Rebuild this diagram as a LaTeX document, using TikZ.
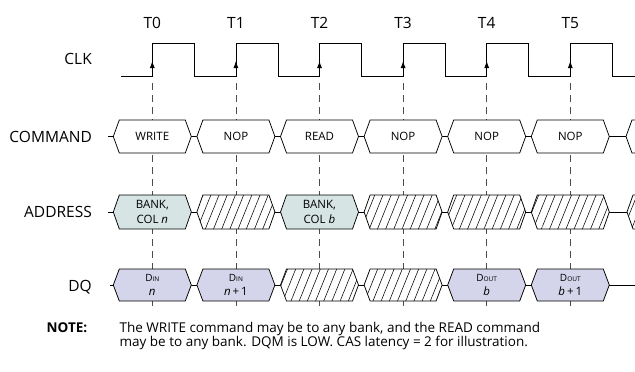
\documentclass[tikz,border=0pt]{standalone}
\usepackage{fontspec}
\setmainfont{Open Sans}
\usetikzlibrary{calc,arrows.meta,patterns.meta}
\definecolor{addrfill}{RGB}{214,228,228}
\definecolor{dqfill}{RGB}{212,212,234}

\begin{document}
\begin{tikzpicture}[x=1pt, y=-1pt,
    lbl/.style = {font=\fontsize{15.5}{17}\selectfont, inner sep=0pt},
    clkline/.style = {line width=.8pt},
    seg/.style = {draw, line width=.75pt, fill=white},
    addrseg/.style = {seg, fill=addrfill},
    dqseg/.style = {seg, fill=dqfill},
    hatchseg/.style = {seg, postaction={pattern={Lines[angle=68, distance=7.6pt, line width=.55pt]}}},
    segtext/.style = {font=\fontsize{11.5}{14.8}\selectfont, align=center, inner sep=0pt},
    notetext/.style = {anchor=base west, font=\fontsize{13.5}{15}\selectfont, inner sep=0pt},
    tick/.style = {draw=black!70, line width=.6pt, dash pattern=on 7pt off 5pt}]
  \useasboundingbox (0,0) rectangle (635,372);

  \foreach \i in {0,...,5}
           {
             \node [lbl, anchor=base] (t\i) at ({152.3+83.6*\i}, 28.5) {T\i};
             \draw [tick] ({152.3+83.6*\i}, 83) -- ++(0, 225);
           }
  \node [lbl, anchor=base east] (clk) at (92, 64) {CLK};
  \node [lbl, anchor=base east] (command) at (92, 142) {COMMAND};
  \node [lbl, anchor=base east] (address) at (92, 217.5) {ADDRESS};
  \node [lbl, anchor=base east] (dq) at (92, 291) {DQ};

  \draw [clkline] (121, 76) \foreach \i in {0,...,5} { -- ({152.3+83.6*\i}, 76) -- ++(0, -33) -- ++(42, 0) -- ++(0, 33) } -- (635, 76);
  \foreach \i in {0,...,5}
           {
             \draw [clkline, -{Latex[length=7pt, width=5pt]}] ({152.3+83.6*\i}, 74) -- ++(0, -13);
           }

  \draw [line width=.75pt] (108, 136.5) -- (635, 136.5);
  \foreach \i/\txt in {0/WRITE, 1/NOP, 2/READ, 3/NOP, 4/NOP, 5/NOP}
           {
             \pgfmathsetmacro\ex{152.3+83.6*\i}
             \draw [seg] (\ex-39, 136.5) -- (\ex-33, 120) -- (\ex+33, 120) -- (\ex+39, 136.5) -- (\ex+33, 153) -- (\ex-33, 153) -- cycle;
             \node [segtext, anchor=base] (cmd\i) at (\ex, 140.5) {\txt};
           }
  \draw [seg] (626, 136.5) -- (632, 120) -- (645, 120) -- (645, 153) -- (632, 153) -- cycle;

  \draw [line width=.75pt] (108, 212) -- (635, 212);
  \foreach \i/\k in {0/addrseg, 1/hatchseg, 2/addrseg, 3/hatchseg, 4/hatchseg, 5/hatchseg}
           {
             \pgfmathsetmacro\ex{152.3+83.6*\i}
             \draw [\k] (\ex-39, 212) -- (\ex-33, 195) -- (\ex+33, 195) -- (\ex+39, 212) -- (\ex+33, 229) -- (\ex-33, 229) -- cycle;
           }
  \draw [hatchseg] (627, 212) -- (633, 195) -- (645, 195) -- (645, 229) -- (633, 229) -- cycle;
  \node [segtext] (addr0) at (152.3, 212) {BANK,\\COL \textit{n}};
  \node [segtext] (addr2) at (319.5, 212) {BANK,\\COL \textit{b}};

  \draw [line width=.75pt] (110, 285) -- (635, 285);
  \foreach \i/\k in {0/dqseg, 1/dqseg, 2/hatchseg, 3/hatchseg, 4/dqseg, 5/dqseg}
           {
             \pgfmathsetmacro\ex{152.3+83.6*\i}
             \draw [\k] (\ex-39, 285) -- (\ex-33, 269) -- (\ex+33, 269) -- (\ex+39, 285) -- (\ex+33, 301) -- (\ex-33, 301) -- cycle;
           }
  \node [segtext] (dq0) at (152.3, 285) {\fontsize{10}{10}\selectfont D{\fontsize{6.5}{6.5}\selectfont IN}\\\textit{n}};
  \node [segtext] (dq1) at (235.9, 285) {\fontsize{10}{10}\selectfont D{\fontsize{6.5}{6.5}\selectfont IN}\\\textit{n}\,+\,1};
  \node [segtext] (dq4) at (486.7, 285) {\fontsize{10}{10}\selectfont D{\fontsize{6.5}{6.5}\selectfont OUT}\\\textit{b}};
  \node [segtext] (dq5) at (570.3, 285) {\fontsize{10}{10}\selectfont D{\fontsize{6.5}{6.5}\selectfont OUT}\\\textit{b}\,+\,1};

  \node [notetext, font=\fontsize{13.5}{15}\selectfont\bfseries] (note) at (46.5, 332.4) {NOTE:};
  \node [notetext] (note1) at (119.4, 332.4) {The WRITE command may be to any bank, and the READ command};
  \node [notetext] (note2) at (119.4, 346.7) {may be to any bank. DQM is LOW. CAS latency = 2 for illustration.};
\end{tikzpicture}
\end{document}
